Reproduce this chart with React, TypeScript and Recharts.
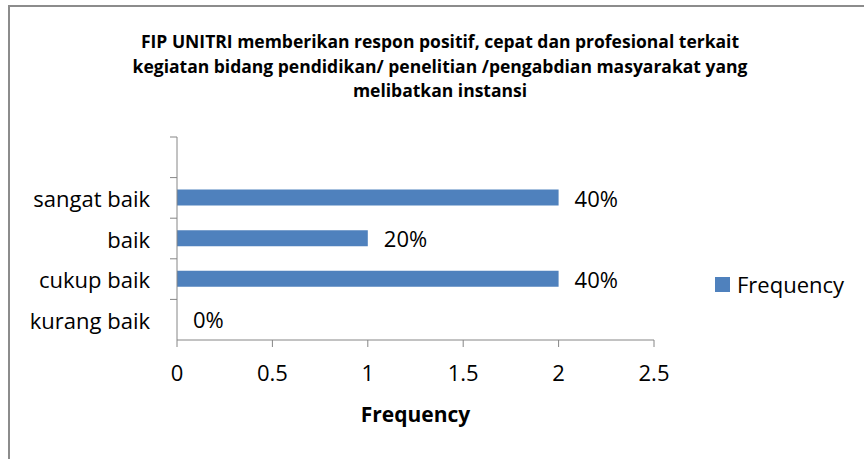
import { BarChart, Bar, XAxis, YAxis, LabelList, Legend, Label } from "recharts";

const categories = ["", "sangat baik", "baik", "cukup baik", "kurang baik"];
const frequency = [null, 2, 1, 2, 0];
const percentLabels = ["", "40%", "20%", "40%", "0%"];
const xTicks = [0, 0.5, 1, 1.5, 2, 2.5];
const titleLines = [
  "FIP UNITRI memberikan respon positif, cepat dan profesional terkait",
  "kegiatan bidang pendidikan/ penelitian /pengabdian masyarakat yang",
  "melibatkan instansi",
];

const data = categories.map((c, i) => ({ category: c, Frequency: frequency[i], pct: percentLabels[i] }));

const FONT = "'Open Sans', sans-serif";
const AXIS = "#868686";
const BAR = "#4F81BD";

// Excel puts category tick marks between the bands, not on their centres
function CategoryTick(props: any) {
  const { x, y, payload } = props;
  const half = payload && payload.offset != null ? payload.offset : 20;
  return (
    <g>
      <line x1={x - 7} x2={x} y1={y - half} y2={y - half} stroke={AXIS} />
      <text x={x - 27} y={y} textAnchor="end" dominantBaseline="central" fontSize={22} fontFamily={FONT} fill="#000">
        {payload.value}
      </text>
    </g>
  );
}

function PctLabel(props: any) {
  const { x, y, width, height, value } = props;
  if (!value) return null;
  return (
    <text x={Number(x) + (Number(width) || 0) + 16} y={Number(y) + (Number(height) || 0) / 2} dominantBaseline="central" fontSize={22} fontFamily={FONT} fill="#000">
      {value}
    </text>
  );
}

function LegendBox() {
  return (
    <div style={{ display: "flex", alignItems: "center", fontFamily: FONT, fontSize: 22, color: "#000" }}>
      <span style={{ display: "inline-block", width: 15, height: 15, background: BAR, marginRight: 7 }} />
      <span>Frequency</span>
    </div>
  );
}

export default function App() {
  return (
    <div style={{ position: "absolute", left: 0, top: 0, width: 864, height: 459, overflow: "hidden", background: "#fff" }}>
      <div style={{ position: "absolute", left: 8, top: 5, width: 900, height: 500, border: "2px solid #8c8c8c" }} />
      <div
        style={{
          position: "absolute",
          left: 0,
          top: 29,
          width: 880,
          textAlign: "center",
          fontFamily: FONT,
          fontWeight: 700,
          fontSize: 17.5,
          lineHeight: "24.5px",
          color: "#000",
        }}
      >
        {titleLines.map((t) => (
          <div key={t}>{t}</div>
        ))}
      </div>
      <div style={{ position: "absolute", left: 0, top: 0 }}>
        <BarChart
          width={864}
          height={459}
          data={data}
          layout="vertical"
          margin={{ top: 137, right: 210, left: 176, bottom: 29 }}
        >
          <XAxis
            type="number"
            domain={[0, 2.5]}
            ticks={xTicks}
            height={90}
            tickSize={7}
            tickMargin={18}
            stroke={AXIS}
            tick={{ fontSize: 22, fontFamily: FONT, fill: "#000" }}
          >
            <Label
              value="Frequency"
              position="insideBottom"
              offset={8}
              style={{ fontSize: 21, fontWeight: 700, fontFamily: FONT, fill: "#000" }}
            />
          </XAxis>
          <YAxis
            type="category"
            dataKey="category"
            width={1}
            tickSize={0}
            tickMargin={0}
            tickLine={false}
            axisLine={{ stroke: AXIS }}
            tick={<CategoryTick />}
            interval={0}
          />
          <Legend
            layout="horizontal"
            align="center"
            verticalAlign="middle"
            content={<LegendBox />}
            wrapperStyle={{ position: "absolute", left: 715, top: 269, width: 150 }}
          />
          {/* minPointSize keeps the zero bar (and its 0% label) in the layout */}
          <Bar dataKey="Frequency" fill={BAR} barSize={16} minPointSize={0.01} isAnimationActive={false}>
            <LabelList dataKey="pct" content={<PctLabel />} />
          </Bar>
        </BarChart>
      </div>
    </div>
  );
}
